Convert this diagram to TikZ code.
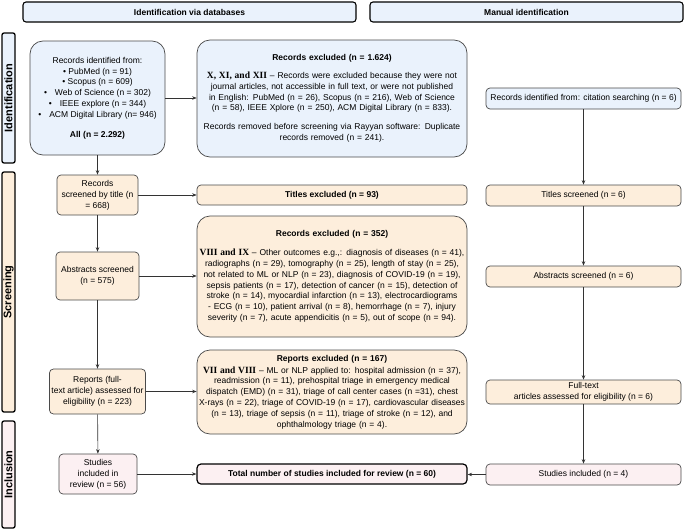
\documentclass[tikz,border=0pt]{standalone}
\usepackage{fontspec}
\setmainfont{Liberation Sans}
\newfontfamily\romanfont{Liberation Serif}
\usepackage{tikz}
\usetikzlibrary{arrows.meta}

\definecolor{idblue}{HTML}{EAF2FC}
\definecolor{scrorange}{HTML}{FDEEDC}
\definecolor{incpink}{HTML}{FCF0F2}
\definecolor{boxline}{HTML}{4A4A4A}

\newcommand{\crit}[1]{{\romanfont\bfseries\fontsize{9.5}{10.8}\selectfont #1}}

\begin{document}
\begin{tikzpicture}[x=1pt,y=-1pt,
        every node/.style={font=\fontsize{8.5}{10.8}\selectfont, inner sep=2pt},
        box/.style={draw=boxline, line width=0.7pt, rounded corners=4pt, align=center},
        bigbox/.style={box, rounded corners=13pt, text width=268pt, inner xsep=1pt},
        header/.style={draw=black, line width=1.1pt, rounded corners=3pt, fill=idblue,
            minimum height=20pt, font=\fontsize{8.5}{10.8}\selectfont\bfseries},
        phase/.style={draw=black, line width=1.3pt, rounded corners=2pt, rotate=90,
            inner sep=0pt, minimum height=13pt, font=\fontsize{11}{12}\selectfont\bfseries},
        flow/.style={draw=black!80, line width=0.6pt, -{Stealth[length=4.5pt,width=3.5pt]}}]
        \useasboundingbox (0,0) rectangle (685,530);

        %% Headers
        \node[header, minimum width=333pt] (hdb) at (189.5,12) {Identification via databases};
        \node[header, minimum width=313pt] (hman) at (526.5,12) {Manual identification};

        %% Phases
        \node[phase, fill=idblue, minimum width=130pt] (phid) at (8.5,98) {Identification};
        \node[phase, fill=scrorange, minimum width=240pt] (phscr) at (8.5,292) {Screening};
        \node[phase, fill=incpink, minimum width=107pt] (phinc) at (8.5,474.5) {Inclusion};

        %% Databases
        \node[box, fill=idblue, rounded corners=13pt, minimum width=135pt, minimum height=114pt] (ident) at (97.5,98)
        {Records identified from:\\
         • PubMed (n = 91)\\
         • Scopus (n = 609)\\
         •\hspace{8pt}Web of Science (n = 302)\\
         •\hspace{8pt}IEEE explore (n = 344)\\
         •\hspace{8pt}ACM Digital Library (n= 946)\\[9pt]
         \textbf{All (n = 2.292)}};

        \node[bigbox, fill=idblue, minimum height=117pt] (exid) at (332,98.5)
        {{\centering\textbf{Records excluded (n = 1.624)}\par}
         \vspace{7pt}
         \crit{X, XI, and XII} -- Records were excluded because they were not journal articles, not accessible in full text, or were not published in English: PubMed (n = 26), Scopus (n = 216), Web of Science (n = 58), IEEE Xplore (n = 250), ACM Digital Library (n = 833).\par
         \vspace{8pt}
         {\centering Records removed before screening via Rayyan software: Duplicate records removed (n = 241).\par}};

        \node[box, fill=scrorange, minimum width=81pt, minimum height=40pt] (title) at (97.5,195)
        {Records\\screened by title (n\\= 668)};
        \node[box, fill=scrorange, minimum width=270pt, minimum height=20pt] (extitle) at (332,195)
        {\textbf{Titles excluded (n = 93)}};

        \node[box, fill=scrorange, minimum width=83pt, minimum height=48pt] (abstr) at (97.5,276)
        {Abstracts screened\\(n = 575)};
        \node[bigbox, fill=scrorange, minimum height=121pt] (exabstr) at (332,276.5)
        {{\centering\textbf{Records excluded (n = 352)}\par}
         \vspace{8pt}
         \crit{VIII and IX}\ -- Other outcomes e.g.,: diagnosis of diseases (n = 41), radiographs (n = 29), tomography (n = 25), length of stay (n = 25), not related to ML or NLP (n = 23), diagnosis of COVID-19 (n = 19), sepsis patients (n = 17), detection of cancer (n = 15), detection of stroke (n = 14), myocardial infarction (n = 13), electrocardiograms - ECG (n = 10), patient arrival (n = 8), hemorrhage (n = 7), injury severity (n = 7), acute appendicitis (n = 5), out of scope (n = 94).\par};

        \node[box, fill=scrorange, minimum width=83pt, minimum height=45pt] (report) at (97.5,391.5)
        {Reports (full-\\text article) assessed for\\eligibility (n = 223)};
        \node[bigbox, fill=scrorange, minimum height=84pt] (exreport) at (332,392)
        {{\centering\textbf{Reports excluded (n = 167)}\par}
         \vspace{1pt}
         {\centering\crit{VII and VIII}\ -- ML or NLP applied to: hospital admission (n = 37), readmission (n = 11), prehospital triage in emergency medical dispatch (EMD) (n = 31), triage of call center cases (n =31), chest X-rays (n = 22), triage of COVID-19 (n = 17), cardiovascular diseases (n = 13), triage of sepsis (n = 11), triage of stroke (n = 12), and ophthalmology triage (n = 4).\par}};

        \node[box, fill=incpink, minimum width=78pt, minimum height=40pt] (incl) at (98,474)
        {Studies\\included in\\review (n = 56)};
        \node[box, fill=incpink, draw=black, line width=1.2pt, minimum width=270pt, minimum height=20pt] (total) at (332,474)
        {\textbf{Total number of studies included for review (n = 60)}};

        %% Manual
        \node[box, fill=idblue, minimum width=195pt, minimum height=21pt] (cite) at (583.5,98.5)
        {Records identified from: citation searching (n = 6)};
        \node[box, fill=scrorange, minimum width=195pt, minimum height=21pt] (mtitle) at (583.5,195.5)
        {Titles screened (n = 6)};
        \node[box, fill=scrorange, minimum width=195pt, minimum height=21pt] (mabstr) at (583.5,276.5)
        {Abstracts screened (n = 6)};
        \node[box, fill=scrorange, minimum width=195pt, minimum height=24pt, inner sep=1pt] (mfull) at (583.5,392)
        {Full-text\\articles assessed for eligibility (n = 6)};
        \node[box, fill=incpink, minimum width=195pt, minimum height=21pt] (mincl) at (583.5,474.5)
        {Studies included (n = 4)};

        %% Arrows
        \draw[flow] (ident) -- (title);
        \draw[flow] (title) -- (abstr);
        \draw[flow] (abstr) -- (report);
        \draw[flow] (report) -- (incl);
        \draw[flow] (ident.east) -- (ident.east -| exid.west);
        \draw[flow] (title.east) -- (title.east -| extitle.west);
        \draw[flow] (abstr.east) -- (abstr.east -| exabstr.west);
        \draw[flow] (report.east) -- (report.east -| exreport.west);
        \draw[flow] (incl.east) -- (incl.east -| total.west);
        \draw[flow] (cite) -- (mtitle);
        \draw[flow] (mtitle) -- (mabstr);
        \draw[flow] (mabstr) -- (mfull);
        \draw[flow] (mfull) -- (mincl);
        \draw[flow] (mincl.west) -- (mincl.west -| total.east);
\end{tikzpicture}
\end{document}
